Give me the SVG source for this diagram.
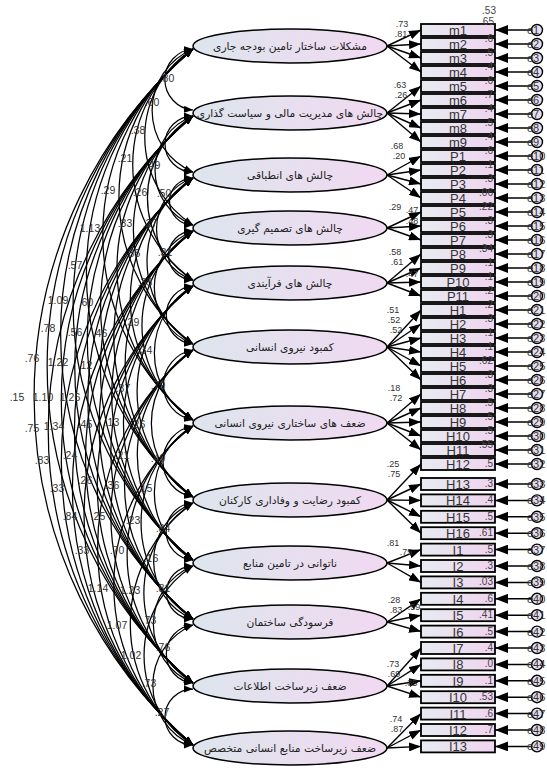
<svg xmlns="http://www.w3.org/2000/svg" width="547" height="774" viewBox="0 0 547 774">
<defs>
<linearGradient id="gE" x1="0" x2="1" y1="0" y2="0"><stop offset="0" stop-color="#dde5ed"/><stop offset="1" stop-color="#f1d9f1"/></linearGradient>
<linearGradient id="gR" x1="0" x2="1" y1="0" y2="0"><stop offset="0" stop-color="#e7ebf1"/><stop offset="1" stop-color="#efd4ef"/></linearGradient>
<marker id="ca" markerUnits="userSpaceOnUse" markerWidth="9" markerHeight="7" refX="9" refY="3.5" orient="auto-start-reverse"><path d="M0,0 L9,3.5 L0,7 z" fill="#000"/></marker>
<marker id="la" markerUnits="userSpaceOnUse" markerWidth="12" markerHeight="9" refX="12" refY="4.5" orient="auto"><path d="M0,0 L12,4.5 L0,9 z" fill="#000"/></marker>
<marker id="ea" markerUnits="userSpaceOnUse" markerWidth="13" markerHeight="10" refX="13" refY="5" orient="auto"><path d="M0,0 L13,5 L0,10 z" fill="#000"/></marker>
</defs>
<style>
.el{fill:url(#gE);stroke:#000;stroke-width:1.5}
.ft{font-family:"DejaVu Sans","Noto Sans",sans-serif;font-size:10.7px;fill:#222;text-anchor:middle}
.bx{fill:url(#gR);stroke:#000;stroke-width:1.8}
.bt{font-family:"Liberation Sans",Arial,sans-serif;font-size:13px;fill:#333;text-anchor:middle}
.r2{font-family:"Liberation Sans",Arial,sans-serif;font-size:10px;fill:#444;text-anchor:end}
.ec{fill:#e6def0;stroke:#000;stroke-width:1.4}
.et{font-family:"Liberation Sans",Arial,sans-serif;font-size:11px;fill:#333}
.cv path{fill:none;stroke:#000;stroke-width:1.25;marker-start:url(#ca);marker-end:url(#ca)}
.ld line{stroke:#000;stroke-width:1.4;marker-end:url(#la)}
.er line{stroke:#000;stroke-width:1.5;marker-end:url(#ea)}
.cl{font-family:"Liberation Sans",Arial,sans-serif;font-size:10.5px;fill:#333;text-anchor:middle}
.ll{font-family:"Liberation Sans",Arial,sans-serif;font-size:9px;fill:#333;text-anchor:middle}
</style>
<rect width="547" height="774" fill="#fff"/>

<g id="connectors">
<g class="cv">
<path d="M193,49 A30.6,30.6 0 0 0 193,110"/>
<path d="M193,49 A66.7,66.7 0 0 0 193,172"/>
<path d="M193,49 A104.4,104.4 0 0 0 193,225"/>
<path d="M193,49 A140.8,140.8 0 0 0 193,280"/>
<path d="M193,49 A183.9,183.9 0 0 0 193,344"/>
<path d="M193,49 A235.8,235.8 0 0 0 193,420"/>
<path d="M193,49 A288.7,288.7 0 0 0 193,497"/>
<path d="M193,49 A332.2,332.2 0 0 0 193,560"/>
<path d="M193,49 A373,373 0 0 0 193,619"/>
<path d="M193,49 A417.4,417.4 0 0 0 193,683"/>
<path d="M193,49 A460.5,460.5 0 0 0 193,745"/>
<path d="M193,116 A28,28 0 0 0 193,172"/>
<path d="M193,116 A58.1,58.1 0 0 0 193,225"/>
<path d="M193,116 A96.6,96.6 0 0 0 193,280"/>
<path d="M193,116 A138.8,138.8 0 0 0 193,344"/>
<path d="M193,116 A190,190 0 0 0 193,420"/>
<path d="M193,116 A242.6,242.6 0 0 0 193,497"/>
<path d="M193,116 A285.9,285.9 0 0 0 193,560"/>
<path d="M193,116 A326.6,326.6 0 0 0 193,619"/>
<path d="M193,116 A371,371 0 0 0 193,683"/>
<path d="M193,116 A414,414 0 0 0 193,745"/>
<path d="M193,178 A23.5,23.5 0 0 0 193,225"/>
<path d="M193,178 A53.9,53.9 0 0 0 193,280"/>
<path d="M193,178 A97.9,97.9 0 0 0 193,344"/>
<path d="M193,178 A148.1,148.1 0 0 0 193,420"/>
<path d="M193,178 A200.2,200.2 0 0 0 193,497"/>
<path d="M193,178 A243.3,243.3 0 0 0 193,560"/>
<path d="M193,178 A283.8,283.8 0 0 0 193,619"/>
<path d="M193,178 A328.1,328.1 0 0 0 193,683"/>
<path d="M193,178 A371,371 0 0 0 193,745"/>
<path d="M193,231 A24.5,24.5 0 0 0 193,280"/>
<path d="M193,231 A60.6,60.6 0 0 0 193,344"/>
<path d="M193,231 A113,113 0 0 0 193,420"/>
<path d="M193,231 A164.3,164.3 0 0 0 193,497"/>
<path d="M193,231 A207.1,207.1 0 0 0 193,560"/>
<path d="M193,231 A247.4,247.4 0 0 0 193,619"/>
<path d="M193,231 A291.4,291.4 0 0 0 193,683"/>
<path d="M193,231 A334.2,334.2 0 0 0 193,745"/>
<path d="M193,286 A29.1,29.1 0 0 0 193,344"/>
<path d="M193,286 A77.4,77.4 0 0 0 193,420"/>
<path d="M193,286 A127.5,127.5 0 0 0 193,497"/>
<path d="M193,286 A169.7,169.7 0 0 0 193,560"/>
<path d="M193,286 A209.8,209.8 0 0 0 193,619"/>
<path d="M193,286 A253.6,253.6 0 0 0 193,683"/>
<path d="M193,286 A296.2,296.2 0 0 0 193,745"/>
<path d="M193,350 A35.5,35.5 0 0 0 193,420"/>
<path d="M193,350 A85.7,85.7 0 0 0 193,497"/>
<path d="M193,350 A126.8,126.8 0 0 0 193,560"/>
<path d="M193,350 A166.3,166.3 0 0 0 193,619"/>
<path d="M193,350 A209.8,209.8 0 0 0 193,683"/>
<path d="M193,350 A252.2,252.2 0 0 0 193,745"/>
<path d="M193,426 A36,36 0 0 0 193,497"/>
<path d="M193,426 A77.4,77.4 0 0 0 193,560"/>
<path d="M193,426 A115.6,115.6 0 0 0 193,619"/>
<path d="M193,426 A158.2,158.2 0 0 0 193,683"/>
<path d="M193,426 A200.2,200.2 0 0 0 193,745"/>
<path d="M193,503 A28.55,28.55 0 0 0 193,560"/>
<path d="M193,503 A62.4,62.4 0 0 0 193,619"/>
<path d="M193,503 A107,107 0 0 0 193,683"/>
<path d="M193,503 A148.1,148.1 0 0 0 193,745"/>
<path d="M193,566 A26.5,26.5 0 0 0 193,619"/>
<path d="M193,566 A63,63 0 0 0 193,683"/>
<path d="M193,566 A106.3,106.3 0 0 0 193,745"/>
<path d="M193,625 A29.1,29.1 0 0 0 193,683"/>
<path d="M193,625 A64.9,64.9 0 0 0 193,745"/>
<path d="M193,689 A28,28 0 0 0 193,745"/>
</g>
<g class="ld">
<line x1="387" y1="46" x2="421" y2="30"/><line x1="387" y1="46" x2="421" y2="44"/><line x1="387" y1="46" x2="421" y2="58"/><line x1="387" y1="46" x2="421" y2="72"/>
<line x1="387" y1="113" x2="421" y2="86"/><line x1="387" y1="113" x2="421" y2="100"/><line x1="387" y1="113" x2="421" y2="114"/><line x1="387" y1="113" x2="421" y2="128"/><line x1="387" y1="113" x2="421" y2="142"/>
<line x1="387" y1="175" x2="421" y2="156"/><line x1="387" y1="175" x2="421" y2="170"/><line x1="387" y1="175" x2="421" y2="184"/><line x1="387" y1="175" x2="421" y2="198"/>
<line x1="387" y1="228" x2="421" y2="212"/><line x1="387" y1="228" x2="421" y2="226"/><line x1="387" y1="228" x2="421" y2="240"/>
<line x1="387" y1="283" x2="421" y2="254"/><line x1="387" y1="283" x2="421" y2="268"/><line x1="387" y1="283" x2="421" y2="282"/><line x1="387" y1="283" x2="421" y2="296"/>
<line x1="387" y1="347" x2="421" y2="310"/><line x1="387" y1="347" x2="421" y2="324"/><line x1="387" y1="347" x2="421" y2="338"/><line x1="387" y1="347" x2="421" y2="352"/><line x1="387" y1="347" x2="421" y2="366"/><line x1="387" y1="347" x2="421" y2="380"/>
<line x1="387" y1="423" x2="421" y2="394"/><line x1="387" y1="423" x2="421" y2="408"/><line x1="387" y1="423" x2="421" y2="422"/><line x1="387" y1="423" x2="421" y2="436"/><line x1="387" y1="423" x2="421" y2="450"/>
<line x1="387" y1="500" x2="421" y2="464"/><line x1="387" y1="500" x2="421" y2="484"/><line x1="387" y1="500" x2="421" y2="500.4"/><line x1="387" y1="500" x2="421" y2="516.8"/><line x1="387" y1="500" x2="421" y2="533.2"/>
<line x1="387" y1="563" x2="421" y2="549.6"/><line x1="387" y1="563" x2="421" y2="566"/><line x1="387" y1="563" x2="421" y2="582.4"/>
<line x1="387" y1="622" x2="421" y2="598.8"/><line x1="387" y1="622" x2="421" y2="615.2"/><line x1="387" y1="622" x2="421" y2="631.6"/>
<line x1="387" y1="686" x2="421" y2="648"/><line x1="387" y1="686" x2="421" y2="664.4"/><line x1="387" y1="686" x2="421" y2="680.8"/><line x1="387" y1="686" x2="421" y2="697.2"/>
<line x1="387" y1="748" x2="421" y2="713.6"/><line x1="387" y1="748" x2="421" y2="730"/><line x1="387" y1="748" x2="421" y2="746.4"/>
</g>
<g class="er">
<line x1="531" y1="30" x2="495" y2="30"/><line x1="531" y1="44" x2="495" y2="44"/><line x1="531" y1="58" x2="495" y2="58"/><line x1="531" y1="72" x2="495" y2="72"/><line x1="531" y1="86" x2="495" y2="86"/><line x1="531" y1="100" x2="495" y2="100"/><line x1="531" y1="114" x2="495" y2="114"/><line x1="531" y1="128" x2="495" y2="128"/><line x1="531" y1="142" x2="495" y2="142"/>
<line x1="531" y1="156" x2="495" y2="156"/><line x1="531" y1="170" x2="495" y2="170"/><line x1="531" y1="184" x2="495" y2="184"/><line x1="531" y1="198" x2="495" y2="198"/><line x1="531" y1="212" x2="495" y2="212"/><line x1="531" y1="226" x2="495" y2="226"/><line x1="531" y1="240" x2="495" y2="240"/><line x1="531" y1="254" x2="495" y2="254"/><line x1="531" y1="268" x2="495" y2="268"/><line x1="531" y1="282" x2="495" y2="282"/><line x1="531" y1="296" x2="495" y2="296"/>
<line x1="531" y1="310" x2="495" y2="310"/><line x1="531" y1="324" x2="495" y2="324"/><line x1="531" y1="338" x2="495" y2="338"/><line x1="531" y1="352" x2="495" y2="352"/><line x1="531" y1="366" x2="495" y2="366"/><line x1="531" y1="380" x2="495" y2="380"/><line x1="531" y1="394" x2="495" y2="394"/><line x1="531" y1="408" x2="495" y2="408"/><line x1="531" y1="422" x2="495" y2="422"/><line x1="531" y1="436" x2="495" y2="436"/><line x1="531" y1="450" x2="495" y2="450"/><line x1="531" y1="464" x2="495" y2="464"/>
<line x1="531" y1="484" x2="495" y2="484"/><line x1="531" y1="500.4" x2="495" y2="500.4"/><line x1="531" y1="516.8" x2="495" y2="516.8"/><line x1="531" y1="533.2" x2="495" y2="533.2"/><line x1="531" y1="549.6" x2="495" y2="549.6"/><line x1="531" y1="566" x2="495" y2="566"/><line x1="531" y1="582.4" x2="495" y2="582.4"/><line x1="531" y1="598.8" x2="495" y2="598.8"/><line x1="531" y1="615.2" x2="495" y2="615.2"/><line x1="531" y1="631.6" x2="495" y2="631.6"/><line x1="531" y1="648" x2="495" y2="648"/><line x1="531" y1="664.4" x2="495" y2="664.4"/><line x1="531" y1="680.8" x2="495" y2="680.8"/><line x1="531" y1="697.2" x2="495" y2="697.2"/><line x1="531" y1="713.6" x2="495" y2="713.6"/><line x1="531" y1="730" x2="495" y2="730"/><line x1="531" y1="746.4" x2="495" y2="746.4"/>
</g>
<g id="cov-labels">
<text class="cl" x="167" y="82">.80</text><text class="cl" x="152" y="106">.60</text><text class="cl" x="138" y="134">.38</text><text class="cl" x="125" y="162">.21</text><text class="cl" x="153" y="169">.49</text>
<text class="cl" x="108" y="194">.29</text><text class="cl" x="140" y="196">.26</text><text class="cl" x="164" y="197">.50</text><text class="cl" x="90" y="232">1.13</text><text class="cl" x="125" y="227">.33</text><text class="cl" x="150" y="227">.27</text>
<text class="cl" x="133" y="257">.35</text><text class="cl" x="165" y="256">.31</text><text class="cl" x="75" y="269">.57</text><text class="cl" x="145" y="286">.33</text><text class="cl" x="58" y="304">1.09</text><text class="cl" x="86" y="306">.60</text>
<text class="cl" x="132" y="326">.39</text><text class="cl" x="48" y="332">.78</text><text class="cl" x="75" y="336">.56</text><text class="cl" x="100" y="337">.46</text><text class="cl" x="145" y="354">.34</text>
<text class="cl" x="32" y="362">.76</text><text class="cl" x="58" y="366">1.22</text><text class="cl" x="85" y="369">.12</text><text class="cl" x="158" y="389">.79</text><text class="cl" x="123" y="392">.37</text>
<text class="cl" x="17" y="401">.15</text><text class="cl" x="43" y="401">1.10</text><text class="cl" x="70" y="401">1.26</text>
<text class="cl" x="32" y="432">.75</text><text class="cl" x="54" y="430">1.34</text><text class="cl" x="85" y="428">.45</text><text class="cl" x="112" y="426">.13</text><text class="cl" x="138" y="428">.26</text>
<text class="cl" x="42" y="464">.83</text><text class="cl" x="70" y="459">.24</text><text class="cl" x="122" y="459">.21</text><text class="cl" x="158" y="462">.49</text>
<text class="cl" x="57" y="492">.33</text><text class="cl" x="85" y="484">.26</text><text class="cl" x="112" y="489">.36</text><text class="cl" x="145" y="492">.15</text>
<text class="cl" x="70" y="520">.84</text><text class="cl" x="98" y="520">.25</text><text class="cl" x="133" y="524">.23</text><text class="cl" x="163" y="532">.84</text>
<text class="cl" x="82" y="554">.33</text><text class="cl" x="117" y="554">.70</text><text class="cl" x="151" y="562">.16</text>
<text class="cl" x="98" y="592">1.14</text><text class="cl" x="130" y="594">1.23</text><text class="cl" x="163" y="592">.81</text>
<text class="cl" x="117" y="629">1.07</text><text class="cl" x="149" y="624">.73</text><text class="cl" x="163" y="651">.76</text><text class="cl" x="131" y="659">1.02</text>
<text class="cl" x="149" y="687">.73</text><text class="cl" x="162" y="716">.27</text>
</g>
<g id="loading-labels">
<text class="ll" x="402" y="27">.73</text><text class="ll" x="401" y="37">.81</text>
<text class="ll" x="400" y="88">.63</text><text class="ll" x="401" y="98">.26</text>
<text class="ll" x="397" y="149">.68</text><text class="ll" x="399" y="159">.20</text>
<text class="ll" x="395" y="210">.29</text><text class="ll" x="412" y="213">.47</text><text class="ll" x="412" y="224">.48</text>
<text class="ll" x="395" y="255">.58</text><text class="ll" x="397" y="265">.61</text><text class="ll" x="412" y="277">.47</text>
<text class="ll" x="393" y="313">.51</text><text class="ll" x="394" y="323">.52</text><text class="ll" x="396" y="333">.52</text>
<text class="ll" x="394" y="391">.18</text><text class="ll" x="396" y="401">.72</text>
<text class="ll" x="393" y="467">.25</text><text class="ll" x="394" y="477">.75</text>
<text class="ll" x="393" y="546">.81</text><text class="ll" x="406" y="555">.75</text>
<text class="ll" x="394" y="603">.28</text><text class="ll" x="396" y="613">.83</text><text class="ll" x="414" y="610">.59</text>
<text class="ll" x="393" y="667">.73</text><text class="ll" x="394" y="677">.69</text><text class="ll" x="411" y="686">.35</text>
<text class="ll" x="396" y="722">.74</text><text class="ll" x="397" y="732">.87</text>
</g>
</g>

<g id="F1"><ellipse class="el" cx="290" cy="46" rx="97" ry="17"/><text class="ft" x="290" y="50">مشکلات ساختار تامین بودجه جاری</text></g>
<g id="F2"><ellipse class="el" cx="290" cy="113" rx="97" ry="17"/><text class="ft" x="290" y="117">چالش های مدیریت مالی و سیاست گذاری</text></g>
<g id="F3"><ellipse class="el" cx="290" cy="175" rx="97" ry="17"/><text class="ft" x="290" y="179">چالش های انطباقی</text></g>
<g id="F4"><ellipse class="el" cx="290" cy="228" rx="97" ry="17"/><text class="ft" x="290" y="232">چالش های تصمیم گیری</text></g>
<g id="F5"><ellipse class="el" cx="290" cy="283" rx="97" ry="17"/><text class="ft" x="290" y="287">چالش های فرآیندی</text></g>
<g id="F6"><ellipse class="el" cx="290" cy="347" rx="97" ry="17"/><text class="ft" x="290" y="351">کمبود نیروی انسانی</text></g>
<g id="F7"><ellipse class="el" cx="290" cy="423" rx="97" ry="17"/><text class="ft" x="290" y="427">ضعف های ساختاری نیروی انسانی</text></g>
<g id="F8"><ellipse class="el" cx="290" cy="500" rx="97" ry="17"/><text class="ft" x="290" y="504">کمبود رضایت و وفاداری کارکنان</text></g>
<g id="F9"><ellipse class="el" cx="290" cy="563" rx="97" ry="17"/><text class="ft" x="290" y="567">ناتوانی در تامین منابع</text></g>
<g id="F10"><ellipse class="el" cx="290" cy="622" rx="97" ry="17"/><text class="ft" x="290" y="626">فرسودگی ساختمان</text></g>
<g id="F11"><ellipse class="el" cx="290" cy="686" rx="97" ry="17"/><text class="ft" x="290" y="690">ضعف زیرساخت اطلاعات</text></g>
<g id="F12"><ellipse class="el" cx="290" cy="748" rx="97" ry="17"/><text class="ft" x="290" y="752">ضعف زیرساخت منابع انسانی متخصص</text></g>

<g id="m1"><rect class="bx" x="421" y="24" width="74" height="12"/><text class="bt" x="458" y="35">m1</text><text class="r2" x="496" y="14">.53</text><text class="r2" x="494" y="25">.65</text></g>
<g id="m2"><rect class="bx" x="421" y="38" width="74" height="12"/><text class="bt" x="458" y="49">m2</text><text class="r2" x="493" y="42">.6</text></g>
<g id="m3"><rect class="bx" x="421" y="52" width="74" height="12"/><text class="bt" x="458" y="63">m3</text><text class="r2" x="493" y="56">.5</text></g>
<g id="m4"><rect class="bx" x="421" y="66" width="74" height="12"/><text class="bt" x="458" y="77">m4</text><text class="r2" x="493" y="70">.4</text></g>
<g id="m5"><rect class="bx" x="421" y="80" width="74" height="12"/><text class="bt" x="458" y="91">m5</text><text class="r2" x="493" y="84">.6</text></g>
<g id="m6"><rect class="bx" x="421" y="94" width="74" height="12"/><text class="bt" x="458" y="105">m6</text><text class="r2" x="493" y="98">.7</text></g>
<g id="m7"><rect class="bx" x="421" y="108" width="74" height="12"/><text class="bt" x="458" y="119">m7</text><text class="r2" x="493" y="112">.4</text></g>
<g id="m8"><rect class="bx" x="421" y="122" width="74" height="12"/><text class="bt" x="458" y="133">m8</text><text class="r2" x="493" y="126">.5</text></g>
<g id="m9"><rect class="bx" x="421" y="136" width="74" height="12"/><text class="bt" x="458" y="147">m9</text><text class="r2" x="493" y="140">.4</text></g>
<g id="P1"><rect class="bx" x="421" y="150" width="74" height="12"/><text class="bt" x="458" y="161">P1</text><text class="r2" x="493" y="154">.6</text></g>
<g id="P2"><rect class="bx" x="421" y="164" width="74" height="12"/><text class="bt" x="458" y="175">P2</text><text class="r2" x="493" y="168">.1</text></g>
<g id="P3"><rect class="bx" x="421" y="178" width="74" height="12"/><text class="bt" x="458" y="189">P3</text><text class="r2" x="493" y="182">.3</text></g>
<g id="P4"><rect class="bx" x="421" y="192" width="74" height="12"/><text class="bt" x="458" y="203">P4</text><text class="r2" x="493" y="196">.06</text></g>
<g id="P5"><rect class="bx" x="421" y="206" width="74" height="12"/><text class="bt" x="458" y="217">P5</text><text class="r2" x="493" y="210">.22</text></g>
<g id="P6"><rect class="bx" x="421" y="220" width="74" height="12"/><text class="bt" x="458" y="231">P6</text><text class="r2" x="493" y="224">.3</text></g>
<g id="P7"><rect class="bx" x="421" y="234" width="74" height="12"/><text class="bt" x="458" y="245">P7</text><text class="r2" x="493" y="238">.3</text></g>
<g id="P8"><rect class="bx" x="421" y="248" width="74" height="12"/><text class="bt" x="458" y="259">P8</text><text class="r2" x="493" y="252">.34</text></g>
<g id="P9"><rect class="bx" x="421" y="262" width="74" height="12"/><text class="bt" x="458" y="273">P9</text><text class="r2" x="493" y="266">.1</text></g>
<g id="P10"><rect class="bx" x="421" y="276" width="74" height="12"/><text class="bt" x="458" y="287">P10</text><text class="r2" x="493" y="280">.1</text></g>
<g id="P11"><rect class="bx" x="421" y="290" width="74" height="12"/><text class="bt" x="458" y="301">P11</text><text class="r2" x="493" y="294">.2</text></g>
<g id="H1"><rect class="bx" x="421" y="304" width="74" height="12"/><text class="bt" x="458" y="315">H1</text><text class="r2" x="493" y="308">.2</text></g>
<g id="H2"><rect class="bx" x="421" y="318" width="74" height="12"/><text class="bt" x="458" y="329">H2</text><text class="r2" x="493" y="322">.3</text></g>
<g id="H3"><rect class="bx" x="421" y="332" width="74" height="12"/><text class="bt" x="458" y="343">H3</text><text class="r2" x="493" y="336">.1</text></g>
<g id="H4"><rect class="bx" x="421" y="346" width="74" height="12"/><text class="bt" x="458" y="357">H4</text><text class="r2" x="493" y="350">.1</text></g>
<g id="H5"><rect class="bx" x="421" y="360" width="74" height="12"/><text class="bt" x="458" y="371">H5</text><text class="r2" x="493" y="364">.62</text></g>
<g id="H6"><rect class="bx" x="421" y="374" width="74" height="12"/><text class="bt" x="458" y="385">H6</text><text class="r2" x="493" y="378">.3</text></g>
<g id="H7"><rect class="bx" x="421" y="388" width="74" height="12"/><text class="bt" x="458" y="399">H7</text><text class="r2" x="493" y="392">.3</text></g>
<g id="H8"><rect class="bx" x="421" y="402" width="74" height="12"/><text class="bt" x="458" y="413">H8</text><text class="r2" x="493" y="406">.5</text></g>
<g id="H9"><rect class="bx" x="421" y="416" width="74" height="12"/><text class="bt" x="458" y="427">H9</text><text class="r2" x="493" y="420">.5</text></g>
<g id="H10"><rect class="bx" x="421" y="430" width="74" height="12"/><text class="bt" x="458" y="441">H10</text><text class="r2" x="493" y="434">.5</text></g>
<g id="H11"><rect class="bx" x="421" y="444" width="74" height="12"/><text class="bt" x="458" y="455">H11</text><text class="r2" x="493" y="448">.55</text></g>
<g id="H12"><rect class="bx" x="421" y="458" width="74" height="12"/><text class="bt" x="458" y="469">H12</text><text class="r2" x="493" y="467">.5</text></g>
<g id="H13"><rect class="bx" x="421" y="478" width="74" height="12"/><text class="bt" x="458" y="489">H13</text><text class="r2" x="493" y="487">.3</text></g>
<g id="H14"><rect class="bx" x="421" y="494.4" width="74" height="12"/><text class="bt" x="458" y="505.4">H14</text><text class="r2" x="493" y="503.4">.4</text></g>
<g id="H15"><rect class="bx" x="421" y="510.8" width="74" height="12"/><text class="bt" x="458" y="521.8">H15</text><text class="r2" x="493" y="519.8">.5</text></g>
<g id="H16"><rect class="bx" x="421" y="527.2" width="74" height="12"/><text class="bt" x="458" y="538.2">H16</text><text class="r2" x="493" y="536.2">.61</text></g>
<g id="I1"><rect class="bx" x="421" y="543.6" width="74" height="12"/><text class="bt" x="458" y="554.6">I1</text><text class="r2" x="493" y="552.6">.5</text></g>
<g id="I2"><rect class="bx" x="421" y="560" width="74" height="12"/><text class="bt" x="458" y="571">I2</text><text class="r2" x="493" y="569">.3</text></g>
<g id="I3"><rect class="bx" x="421" y="576.4" width="74" height="12"/><text class="bt" x="458" y="587.4">I3</text><text class="r2" x="493" y="585.4">.03</text></g>
<g id="I4"><rect class="bx" x="421" y="592.8" width="74" height="12"/><text class="bt" x="458" y="603.8">I4</text><text class="r2" x="493" y="601.8">.6</text></g>
<g id="I5"><rect class="bx" x="421" y="609.2" width="74" height="12"/><text class="bt" x="458" y="620.2">I5</text><text class="r2" x="493" y="618.2">.41</text></g>
<g id="I6"><rect class="bx" x="421" y="625.6" width="74" height="12"/><text class="bt" x="458" y="636.6">I6</text><text class="r2" x="493" y="634.6">.5</text></g>
<g id="I7"><rect class="bx" x="421" y="642" width="74" height="12"/><text class="bt" x="458" y="653">I7</text><text class="r2" x="493" y="651">.4</text></g>
<g id="I8"><rect class="bx" x="421" y="658.4" width="74" height="12"/><text class="bt" x="458" y="669.4">I8</text><text class="r2" x="493" y="667.4">.0</text></g>
<g id="I9"><rect class="bx" x="421" y="674.8" width="74" height="12"/><text class="bt" x="458" y="685.8">I9</text><text class="r2" x="493" y="683.8">.1</text></g>
<g id="I10"><rect class="bx" x="421" y="691.2" width="74" height="12"/><text class="bt" x="458" y="702.2">I10</text><text class="r2" x="493" y="700.2">.53</text></g>
<g id="I11"><rect class="bx" x="421" y="707.6" width="74" height="12"/><text class="bt" x="458" y="718.6">I11</text><text class="r2" x="493" y="716.6">.6</text></g>
<g id="I12"><rect class="bx" x="421" y="724" width="74" height="12"/><text class="bt" x="458" y="735">I12</text><text class="r2" x="493" y="733">.7</text></g>
<g id="I13"><rect class="bx" x="421" y="740.4" width="74" height="12"/><text class="bt" x="458" y="751.4">I13</text></g>

<g id="errors">
<g id="e1"><circle class="ec" cx="537" cy="30" r="5.5"/><text class="et" x="527" y="34">e1</text></g>
<g id="e2"><circle class="ec" cx="537" cy="44" r="5.5"/><text class="et" x="527" y="48">e2</text></g>
<g id="e3"><circle class="ec" cx="537" cy="58" r="5.5"/><text class="et" x="527" y="62">e3</text></g>
<g id="e4"><circle class="ec" cx="537" cy="72" r="5.5"/><text class="et" x="527" y="76">e4</text></g>
<g id="e5"><circle class="ec" cx="537" cy="86" r="5.5"/><text class="et" x="527" y="90">e5</text></g>
<g id="e6"><circle class="ec" cx="537" cy="100" r="5.5"/><text class="et" x="527" y="104">e6</text></g>
<g id="e7"><circle class="ec" cx="537" cy="114" r="5.5"/><text class="et" x="527" y="118">e7</text></g>
<g id="e8"><circle class="ec" cx="537" cy="128" r="5.5"/><text class="et" x="527" y="132">e8</text></g>
<g id="e9"><circle class="ec" cx="537" cy="142" r="5.5"/><text class="et" x="527" y="146">e9</text></g>
<g id="e10"><circle class="ec" cx="537" cy="156" r="5.5"/><text class="et" x="527" y="160">e10</text></g>
<g id="e11"><circle class="ec" cx="537" cy="170" r="5.5"/><text class="et" x="527" y="174">e11</text></g>
<g id="e12"><circle class="ec" cx="537" cy="184" r="5.5"/><text class="et" x="527" y="188">e12</text></g>
<g id="e13"><circle class="ec" cx="537" cy="198" r="5.5"/><text class="et" x="527" y="202">e13</text></g>
<g id="e14"><circle class="ec" cx="537" cy="212" r="5.5"/><text class="et" x="527" y="216">e14</text></g>
<g id="e15"><circle class="ec" cx="537" cy="226" r="5.5"/><text class="et" x="527" y="230">e15</text></g>
<g id="e16"><circle class="ec" cx="537" cy="240" r="5.5"/><text class="et" x="527" y="244">e16</text></g>
<g id="e17"><circle class="ec" cx="537" cy="254" r="5.5"/><text class="et" x="527" y="258">e17</text></g>
<g id="e18"><circle class="ec" cx="537" cy="268" r="5.5"/><text class="et" x="527" y="272">e18</text></g>
<g id="e19"><circle class="ec" cx="537" cy="282" r="5.5"/><text class="et" x="527" y="286">e19</text></g>
<g id="e20"><circle class="ec" cx="537" cy="296" r="5.5"/><text class="et" x="527" y="300">e20</text></g>
<g id="e21"><circle class="ec" cx="537" cy="310" r="5.5"/><text class="et" x="527" y="314">e21</text></g>
<g id="e22"><circle class="ec" cx="537" cy="324" r="5.5"/><text class="et" x="527" y="328">e22</text></g>
<g id="e23"><circle class="ec" cx="537" cy="338" r="5.5"/><text class="et" x="527" y="342">e23</text></g>
<g id="e24"><circle class="ec" cx="537" cy="352" r="5.5"/><text class="et" x="527" y="356">e24</text></g>
<g id="e25"><circle class="ec" cx="537" cy="366" r="5.5"/><text class="et" x="527" y="370">e25</text></g>
<g id="e26"><circle class="ec" cx="537" cy="380" r="5.5"/><text class="et" x="527" y="384">e26</text></g>
<g id="e27"><circle class="ec" cx="537" cy="394" r="5.5"/><text class="et" x="527" y="398">e27</text></g>
<g id="e28"><circle class="ec" cx="537" cy="408" r="5.5"/><text class="et" x="527" y="412">e28</text></g>
<g id="e29"><circle class="ec" cx="537" cy="422" r="5.5"/><text class="et" x="527" y="426">e29</text></g>
<g id="e30"><circle class="ec" cx="537" cy="436" r="5.5"/><text class="et" x="527" y="440">e30</text></g>
<g id="e31"><circle class="ec" cx="537" cy="450" r="5.5"/><text class="et" x="527" y="454">e31</text></g>
<g id="e32"><circle class="ec" cx="537" cy="464" r="5.5"/><text class="et" x="527" y="468">e32</text></g>
<g id="e33"><circle class="ec" cx="537" cy="484" r="5.5"/><text class="et" x="527" y="488">e33</text></g>
<g id="e34"><circle class="ec" cx="537" cy="500.4" r="5.5"/><text class="et" x="527" y="504.4">e34</text></g>
<g id="e35"><circle class="ec" cx="537" cy="516.8" r="5.5"/><text class="et" x="527" y="520.8">e35</text></g>
<g id="e36"><circle class="ec" cx="537" cy="533.2" r="5.5"/><text class="et" x="527" y="537.2">e36</text></g>
<g id="e37"><circle class="ec" cx="537" cy="549.6" r="5.5"/><text class="et" x="527" y="553.6">e37</text></g>
<g id="e38"><circle class="ec" cx="537" cy="566" r="5.5"/><text class="et" x="527" y="570">e38</text></g>
<g id="e39"><circle class="ec" cx="537" cy="582.4" r="5.5"/><text class="et" x="527" y="586.4">e39</text></g>
<g id="e40"><circle class="ec" cx="537" cy="598.8" r="5.5"/><text class="et" x="527" y="602.8">e40</text></g>
<g id="e41"><circle class="ec" cx="537" cy="615.2" r="5.5"/><text class="et" x="527" y="619.2">e41</text></g>
<g id="e42"><circle class="ec" cx="537" cy="631.6" r="5.5"/><text class="et" x="527" y="635.6">e42</text></g>
<g id="e43"><circle class="ec" cx="537" cy="648" r="5.5"/><text class="et" x="527" y="652">e43</text></g>
<g id="e44"><circle class="ec" cx="537" cy="664.4" r="5.5"/><text class="et" x="527" y="668.4">e44</text></g>
<g id="e45"><circle class="ec" cx="537" cy="680.8" r="5.5"/><text class="et" x="527" y="684.8">e45</text></g>
<g id="e46"><circle class="ec" cx="537" cy="697.2" r="5.5"/><text class="et" x="527" y="701.2">e46</text></g>
<g id="e47"><circle class="ec" cx="537" cy="713.6" r="5.5"/><text class="et" x="527" y="717.6">e47</text></g>
<g id="e48"><circle class="ec" cx="537" cy="730" r="5.5"/><text class="et" x="527" y="734">e48</text></g>
<g id="e49"><circle class="ec" cx="537" cy="746.4" r="5.5"/><text class="et" x="527" y="750.4">e49</text></g>
</g>
</svg>
